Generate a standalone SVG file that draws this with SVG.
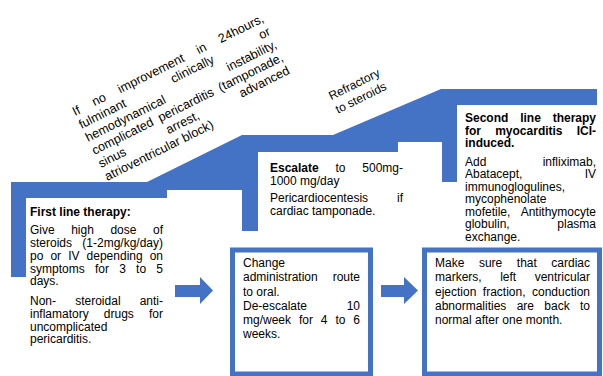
<svg xmlns="http://www.w3.org/2000/svg" width="603" height="376" viewBox="0 0 603 376">
<style>
.t{font-family:"Liberation Sans",Arial,sans-serif;font-size:12px;fill:#000}
.r{font-size:12.6px}
.b{font-weight:bold}
.e{text-anchor:end}
.blue{fill:#4472C4}
.box{fill:#fff;stroke:#4472C4;stroke-width:5}
</style>
<rect width="603" height="376" fill="#fff"/>
<g id="stairs">
<polygon class="blue" points="11,277 11,182 147,182 242,135 333,135 441,89 597,89 597,105 457,105 457,182 442,182 442,142 398,142 398,152 258,152 258,231 242,231 242,190 167,190 167,198 26,198 26,277"/>
</g>
<g id="step1">
<text class="t b" x="30" y="216">First line therapy:</text>
<text class="t" y="234"><tspan x="30">Give</tspan><tspan x="71.2">high</tspan><tspan x="110.4">dose</tspan></text>
<text class="t e" x="163" y="234">of</text>
<text class="t" x="30" y="247">steroids</text>
<text class="t e" x="163" y="247">(1-2mg/kg/day)</text>
<text class="t" y="260"><tspan x="30">po</tspan><tspan x="50.4">or</tspan><tspan x="68.2">IV</tspan><tspan x="86.6">depending</tspan></text>
<text class="t e" x="163" y="260">on</text>
<text class="t" y="272.5"><tspan x="30">symptoms</tspan><tspan x="94.9">for</tspan><tspan x="119.2">3</tspan><tspan x="136.1">to</tspan></text>
<text class="t e" x="163" y="272.5">5</text>
<text class="t" x="30" y="285">days.</text>
<text class="t" y="305"><tspan x="30">Non-</tspan><tspan x="75.2">steroidal</tspan></text>
<text class="t e" x="163" y="305">anti-</text>
<text class="t" y="318"><tspan x="30">inflamatory</tspan><tspan x="103.8">drugs</tspan></text>
<text class="t e" x="163" y="318">for</text>
<text class="t" x="30" y="330.5">uncomplicated</text>
<text class="t" x="30" y="343">pericarditis.</text>
</g>
<g id="step2">
<text class="t" y="172"><tspan x="270" class="b">Escalate</tspan><tspan x="335.5">to</tspan></text>
<text class="t e" x="403" y="172">500mg-</text>
<text class="t" x="270" y="184.5">1000 mg/day</text>
<text class="t" x="270" y="202">Pericardiocentesis</text>
<text class="t e" x="403" y="202">if</text>
<text class="t" x="270" y="214.5">cardiac tamponade.</text>
</g>
<g id="step3">
<text class="t b" y="122"><tspan x="465">Second</tspan><tspan x="520.2">line</tspan></text>
<text class="t b e" x="596" y="122">therapy</text>
<text class="t b" y="134.5"><tspan x="465">for</tspan><tspan x="495.2">myocarditis</tspan></text>
<text class="t b e" x="596" y="134.5">ICI-</text>
<text class="t b" x="465" y="147">induced.</text>
<text class="t" x="465" y="165.5">Add</text>
<text class="t e" x="596" y="165.5">infliximab,</text>
<text class="t" x="465" y="178">Abatacept,</text>
<text class="t e" x="596" y="178">IV</text>
<text class="t" x="465" y="190.5">immunoglogulines,</text>
<text class="t" x="465" y="203">mycophenolate</text>
<text class="t" x="465" y="215.5">mofetile,</text>
<text class="t e" x="596" y="215.5">Antithymocyte</text>
<text class="t" x="465" y="228">globulin,</text>
<text class="t e" x="596" y="228">plasma</text>
<text class="t" x="465" y="240.5">exchange.</text>
</g>
<g id="note-escalation" transform="translate(75,116) rotate(-26.5)">
<text class="t r" y="0"><tspan x="0">If</tspan><tspan x="21.8">no</tspan><tspan x="50.7">improvement</tspan><tspan x="138.4">in</tspan></text>
<text class="t r e" x="212" y="0">24hours,</text>
<text class="t r" y="14.5"><tspan x="0">fulminant</tspan><tspan x="102.5">clinically</tspan></text>
<text class="t r e" x="212" y="14.5">or</text>
<text class="t r" x="0" y="29">hemodynamical</text>
<text class="t r e" x="212" y="29">instability,</text>
<text class="t r" y="43.5"><tspan x="0">complicated</tspan><tspan x="73.8">pericarditis</tspan></text>
<text class="t r e" x="212" y="43.5">(tamponade,</text>
<text class="t r" y="58"><tspan x="0">sinus</tspan><tspan x="75.5">arrest,</tspan></text>
<text class="t r e" x="212" y="58">advanced</text>
<text class="t r" x="0" y="72.5">atrioventricular block)</text>
</g>
<g id="note-refractory" transform="translate(356,88) rotate(-26.5)">
<text class="t" x="0" y="0" text-anchor="middle">Refractory</text>
<text class="t" x="0" y="15" text-anchor="middle">to steroids</text>
</g>
<g id="box-taper">
<rect class="box" x="232.5" y="250" width="138" height="124"/>
<text class="t" x="243" y="267">Change</text>
<text class="t" x="243" y="281">administration</text>
<text class="t e" x="360" y="281">route</text>
<text class="t" x="243" y="295.5">to oral.</text>
<text class="t" x="243" y="310">De-escalate</text>
<text class="t e" x="360" y="310">10</text>
<text class="t" y="324"><tspan x="243">mg/week</tspan><tspan x="298.9">for</tspan><tspan x="320.8">4</tspan><tspan x="335.4">to</tspan></text>
<text class="t e" x="360" y="324">6</text>
<text class="t" x="243" y="338">weeks.</text>
</g>
<g id="box-followup">
<rect class="box" x="424.5" y="250" width="175" height="124"/>
<text class="t" y="267"><tspan x="435">Make</tspan><tspan x="478.9">sure</tspan><tspan x="516.8">that</tspan></text>
<text class="t e" x="590" y="267">cardiac</text>
<text class="t" y="281"><tspan x="435">markers,</tspan><tspan x="500.2">left</tspan></text>
<text class="t e" x="590" y="281">ventricular</text>
<text class="t" y="295.5"><tspan x="435">ejection</tspan><tspan x="482.8">fraction,</tspan></text>
<text class="t e" x="590" y="295.5">conduction</text>
<text class="t" y="310"><tspan x="435">abnormalities</tspan><tspan x="516.7">are</tspan><tspan x="544.3">back</tspan></text>
<text class="t e" x="590" y="310">to</text>
<text class="t" x="435" y="324">normal after one month.</text>
</g>
<g id="connectors">
<polygon class="blue" points="175,285 200,285 200,277 213,290.5 200,304 200,297 175,297"/>
<polygon class="blue" points="381,285 404,285 404,277 418,290.5 404,304 404,297 381,297"/>
</g>
</svg>
